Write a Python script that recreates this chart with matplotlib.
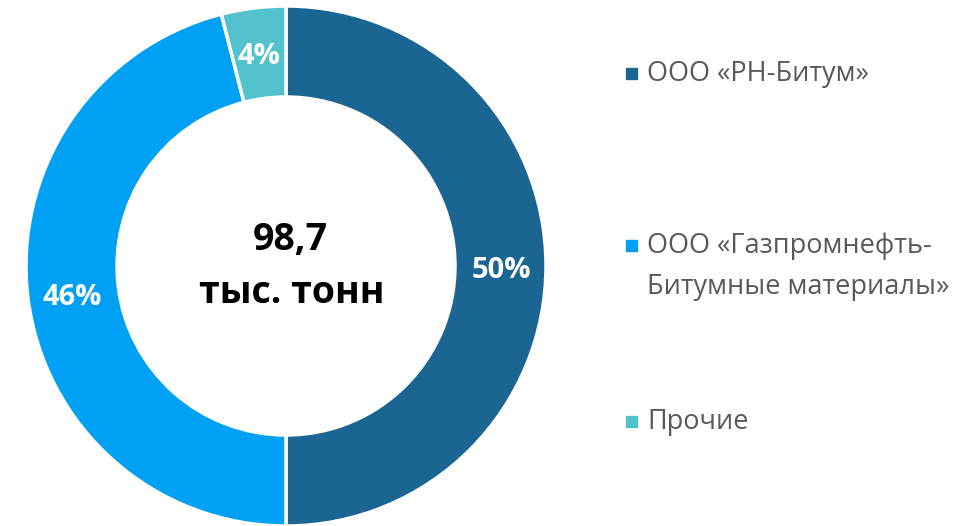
import matplotlib
matplotlib.use('Agg')
import matplotlib.pyplot as plt
from matplotlib.patches import Rectangle

# === Data ===
labels = ["ООО «РН-Битум»", "ООО «Газпромнефть-\nБитумные материалы»", "Прочие"]
shares = [50, 46, 4]
colors = ["#1a6592", "#00a0f5", "#52c3cd"]
center_value = "98,7"
center_unit = "тыс. тонн"

plt.rcParams['font.family'] = ['Open Sans', 'DejaVu Sans']

W, H = 969, 526
fig = plt.figure(figsize=(W / 100, H / 100), dpi=100)

# donut: center (286, 266) px, radius 260 px
cx, cy, r = 286, 266, 260
ax = fig.add_axes([(cx - r) / W, (H - cy - r) / H, 2 * r / W, 2 * r / H])
wedges, _, autotexts = ax.pie(
    shares, colors=colors, startangle=90, counterclock=False, radius=1,
    autopct=lambda p: f"{p:.0f}%", pctdistance=0.83,
    wedgeprops=dict(width=0.35, edgecolor='white', linewidth=2.5),
    textprops=dict(color='white', fontsize=21, fontweight='bold'))
# labels sit a few px lower in the reference
for t in autotexts:
    x, y = t.get_position()
    t.set_position((x, y - 0.018))
ax.set_xlim(-1, 1)
ax.set_ylim(-1, 1)
ax.set_aspect('equal')
ax.axis('off')

ax.text(0.015, 0.1, center_value, ha='center', va='center', fontsize=27,
        fontweight='bold', color='black')
ax.text(0.022, -0.105, center_unit, ha='center', va='center', fontsize=27,
        fontweight='bold', color='black')

# legend drawn by hand: marker square + text, first line aligned with marker
marker_y = [73, 245, 421]
for lab, col, my in zip(labels, colors, marker_y):
    fig.patches.append(Rectangle((626 / W, 1 - (my + 5.5) / H), 11 / W, 11 / H,
                                 transform=fig.transFigure, color=col))
    fig.text(647 / W, 1 - (my - 13) / H, lab, ha='left', va='top',
             fontsize=19.5, color='#595959', linespacing=1.6)

fig.savefig("out.png", dpi=100)
